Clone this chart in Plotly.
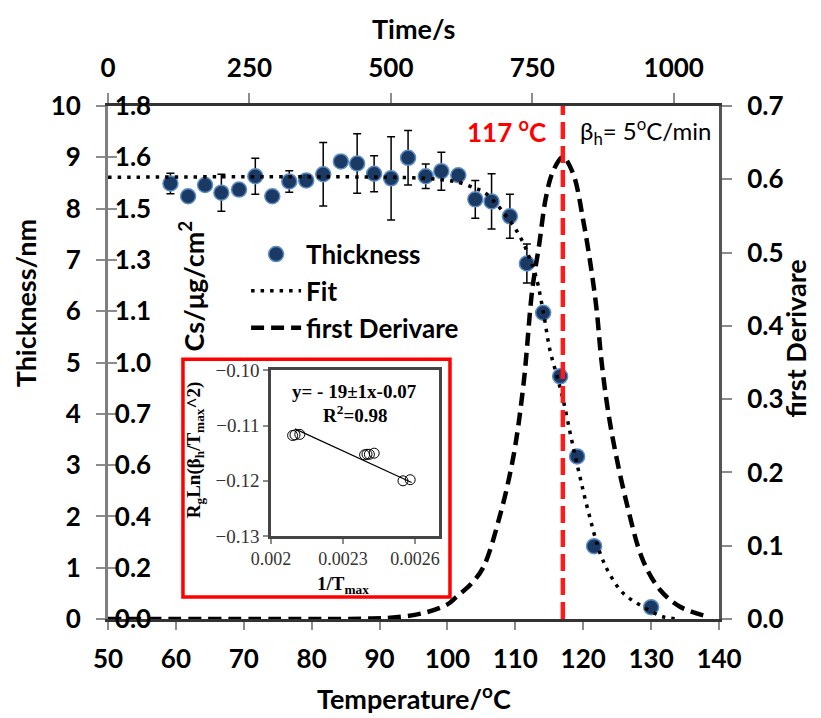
import plotly.graph_objects as go

# ---------------- data ----------------
temp_pts = [59.2, 61.8, 64.3, 66.7, 69.3, 71.7, 74.2, 76.7, 79.2, 81.7, 84.3, 86.7, 89.2,
            91.7, 94.2, 96.8, 99.1, 101.6, 104.1, 106.5, 109.2, 111.7, 114.1, 116.6, 119.1,
            121.6, 130.0]
thick_pts = [8.49, 8.24, 8.46, 8.31, 8.37, 8.63, 8.24, 8.53, 8.55, 8.67, 8.92, 8.88, 8.68,
             8.59, 8.99, 8.63, 8.73, 8.65, 8.18, 8.14, 7.85, 6.93, 5.97, 4.73, 3.17, 1.42, 0.23]
thick_err = [0.20, 0.0, 0.0, 0.36, 0.0, 0.35, 0.0, 0.21, 0.0, 0.62, 0.0, 0.58, 0.35,
             0.81, 0.53, 0.24, 0.37, 0.0, 0.37, 0.54, 0.43, 0.38, 0.0, 0.0, 0.0, 0.0, 0.0]

fit_t = [50, 95, 100, 102, 104, 105.4, 107, 108.5, 109.9, 111.2, 112.2, 113.1, 114.1, 115.1,
         116.1, 117.05, 118.2, 119.4, 120.7, 122.5, 124.0, 125.9, 128.4, 131.6, 134.0]
fit_th = [8.61, 8.60, 8.55, 8.50, 8.40, 8.32, 8.12, 7.88, 7.63, 7.32, 7.00, 6.65, 6.00, 5.24,
          4.75, 4.27, 3.55, 2.84, 2.12, 1.28, 0.85, 0.50, 0.27, 0.05, 0.0]

der_t = [50, 80, 88, 92, 96.4, 100, 101.3, 103.5, 105.3, 107.7, 109.7, 111.2, 112.5, 113.5,
         114.5, 115.6, 117.0, 118.5, 120.0, 121.2, 122.0, 122.6, 123.4, 124.4, 126.4, 128.8,
         131.3, 134.2, 137.7]
der_v = [0.0, 0.0, 0.0005, 0.002, 0.008, 0.02, 0.03, 0.048, 0.071, 0.14, 0.221, 0.32, 0.45,
         0.51, 0.575, 0.612, 0.63, 0.608, 0.544, 0.476, 0.42, 0.36, 0.30, 0.244, 0.158, 0.08,
         0.04, 0.017, 0.005]

peak_t = [117, 117]
peak_v = [0, 0.7]

time_ticks = [0, 250, 500, 750, 1000]
thick_ticks = [0, 1, 2, 3, 4, 5, 6, 7, 8, 9, 10]
cs_labels = ["0.0", "0.2", "0.4", "0.6", "0.7", "1.0", "1.1", "1.3", "1.5", "1.6", "1.8"]

inset_x = [0.00209, 0.00210, 0.00212, 0.00239, 0.00240, 0.00241, 0.00243, 0.00255, 0.00258]
inset_y = [-0.1118, -0.1117, -0.1116, -0.1153, -0.1152, -0.1152, -0.1150, -0.1200, -0.1198]
inset_fit_x = [0.00210, 0.002586]
inset_fit_y = [-0.1106, -0.1203]
inset_xticks = [0.002, 0.0023, 0.0026]
inset_xticktext = ["0.002", "0.0023", "0.0026"]

# ---------------- figure ----------------
FONT = "Lato"
TICK = dict(family=FONT, size=26, color="black", weight="bold")
TITLE = dict(family=FONT, size=27, color="black", weight="bold")
LEG = dict(family=FONT, size=26, color="black", weight="bold")
SERIF = "Liberation Serif"
GRAY = "#8c8c8c"

fig = go.Figure()

fig.add_trace(go.Scatter(
    x=temp_pts, y=thick_pts, mode="markers", name="Thickness",
    marker=dict(size=15, color="#1b3a63", line=dict(color="#5b8cc8", width=1.5)),
    error_y=dict(type="data", array=thick_err, visible=True, color="black",
                 thickness=1.5, width=4),
    xaxis="x", yaxis="y"))

fig.add_trace(go.Scatter(
    x=fit_t, y=fit_th, mode="lines", name="Fit", line_shape="spline",
    line=dict(color="black", width=3.5, dash="3.5px,6px"),
    xaxis="x", yaxis="y"))

fig.add_trace(go.Scatter(
    x=der_t, y=der_v, mode="lines", name="first Derivare", line_shape="spline",
    line=dict(color="black", width=4.5, dash="13px,7px"),
    xaxis="x", yaxis="y2"))

fig.add_trace(go.Scatter(
    x=peak_t, y=peak_v, mode="lines", showlegend=False,
    line=dict(color="#ff1a1a", width=4.5, dash="17px,7px"),
    xaxis="x", yaxis="y2"))

# inset
fig.add_trace(go.Scatter(
    x=inset_x, y=inset_y, mode="markers", showlegend=False,
    marker=dict(symbol="circle-open", size=10, color="black", line=dict(width=1)),
    xaxis="x3", yaxis="y4"))
fig.add_trace(go.Scatter(
    x=inset_fit_x, y=inset_fit_y, mode="lines", showlegend=False,
    line=dict(color="black", width=1.2),
    xaxis="x3", yaxis="y4"))

# invisible traces to activate top time axis and Cs axis
fig.add_trace(go.Scatter(x=[0, 1080], y=[None, None], mode="markers", showlegend=False,
                         hoverinfo="skip", xaxis="x2", yaxis="y"))
fig.add_trace(go.Scatter(x=[None], y=[None], mode="markers", showlegend=False,
                         hoverinfo="skip", xaxis="x", yaxis="y3"))

axis_common = dict(showgrid=False, zeroline=False, tickcolor=GRAY, tickwidth=2,
                   automargin=False)

fig.update_layout(
    width=813, height=710, autosize=False,
    margin=dict(l=100, r=102, t=98, b=99),
    paper_bgcolor="white", plot_bgcolor="white",
    font=dict(family=FONT, color="black"),
    showlegend=True,
    legend=dict(x=0.226, y=0.757, xanchor="left", yanchor="top",
                bgcolor="rgba(0,0,0,0)", font=LEG, itemwidth=50,
                tracegroupgap=0),
    xaxis=dict(range=[50, 140], tickvals=[50, 60, 70, 80, 90, 100, 110, 120, 130, 140],
               ticks="outside", ticklen=8, tickfont=TICK, showline=True,
               linecolor="#333333", linewidth=3, ticklabelstandoff=7, **axis_common),
    xaxis2=dict(range=[0, 1080], overlaying="x", side="top", anchor="y",
                tickvals=time_ticks, ticks="outside", ticklen=10, tickfont=TICK,
                showline=True, linecolor="#333333", linewidth=3, ticklabelstandoff=6,
                **axis_common),
    yaxis=dict(range=[0, 10], tickvals=thick_ticks, ticks="outside", ticklen=9,
               tickfont=TICK, showline=True, linecolor="#7f7f7f", linewidth=3,
               ticklabelstandoff=10, **axis_common),
    yaxis2=dict(range=[0, 0.7], overlaying="y", side="right", anchor="x",
                tickvals=[0, 0.1, 0.2, 0.3, 0.4, 0.5, 0.6, 0.7], tickformat=".1f",
                ticks="outside", ticklen=10, tickfont=TICK, showline=True,
                linecolor="#555555", linewidth=3, ticklabelstandoff=10, **axis_common),
    yaxis3=dict(range=[0, 10], overlaying="y", side="left", anchor="x",
                tickvals=thick_ticks, ticktext=cs_labels, ticks="inside", ticklen=9,
                ticklabelposition="inside", ticklabeloverflow="allow",
                tickfont=TICK, showline=False, ticklabelstandoff=0, **axis_common),
    xaxis3=dict(domain=[0.2668, 0.5417], anchor="y4", range=[0.002, 0.0027],
                tickvals=inset_xticks, ticktext=inset_xticktext, ticks="outside",
                ticklen=5, tickfont=dict(family=SERIF, size=18, color="#333333"),
                ticklabelstandoff=0,
                showline=True, mirror=True, linecolor="#444444", linewidth=2.5,
                **axis_common),
    yaxis4=dict(domain=[0.1616, 0.4849], anchor="x3", range=[-0.13, -0.10],
                tickvals=[-0.13, -0.12, -0.11, -0.10], tickformat=".2f", ticks="outside",
                ticklen=5, tickfont=dict(family=SERIF, size=19, color="#333333"),
                showline=True, mirror=True, linecolor="#444444", linewidth=2.5,
                **axis_common),
)

# red box around inset
fig.add_shape(type="rect", xref="paper", yref="paper", x0=0.1227, x1=0.5597,
              y0=0.0428, y1=0.5063, line=dict(color="#ff0000", width=3.5), layer="below")

def ann(text, x, y, font, angle=0, **kw):
    fig.add_annotation(text=text, x=x, y=y, xref="paper", yref="paper", showarrow=False,
                       xanchor="center", yanchor="middle", textangle=angle, font=font, **kw)

ann("Thickness/nm", -0.1358, 0.6154, TITLE, angle=-90)
ann("first Derivare", 1.1244, 0.547, TITLE, angle=-90)
ann("Cs/μg/cm<sup>2</sup>", 0.1358, 0.650, TITLE, angle=-90)
ann("Time/s", 0.5, 1.151, TITLE)
ann("Temperature/<sup>o</sup>C", 0.5, -0.152, TITLE)
ann("117 <sup>o</sup>C", 0.653, 0.952, dict(family=FONT, size=26, color="#ff0000", weight="bold"))
ann("β<sub>h</sub>= 5<sup>o</sup>C/min", 0.8805, 0.952, dict(family=FONT, size=24, color="black"))

SERIF_B = dict(family=SERIF, size=19, color="black", weight="bold")
ann("y= - 19±1x-0.07", 0.404, 0.444, SERIF_B)
ann("R<sup>2</sup>=0.98", 0.404, 0.400, SERIF_B)
ann("R<sub>g</sub>Ln(β<sub>h</sub>/T<sub>max</sub>^2)", 0.1424, 0.329, SERIF_B, angle=-90)
ann("1/T<sub>max</sub>", 0.384, 0.066, SERIF_B)

fig.write_html("out.html")
